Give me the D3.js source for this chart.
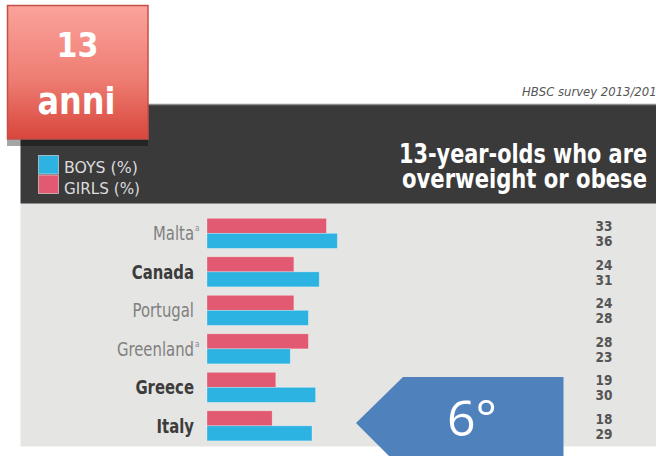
<!DOCTYPE html>
<html>
<head>
<meta charset="utf-8">
<script src="https://cdn.jsdelivr.net/npm/d3@7"></script>
<style>
  html, body { margin: 0; padding: 0; background: #ffffff; }
  svg { display: block; }
  .cond { font-family: "DejaVu Sans Condensed", "DejaVu Sans", sans-serif; font-stretch: condensed; }
</style>
</head>
<body>
<script>
// Share of 13-year-olds who are overweight or obese (HBSC 2013/2014)
const countries = ["Malta", "Canada", "Portugal", "Greenland", "Greece", "Italy"];
const girls = [33, 24, 24, 28, 19, 18];
const boys = [36, 31, 28, 23, 30, 29];
const boldCountries = ["Canada", "Greece", "Italy"];
const footnotes = ["a", "", "", "a", "", ""];
const seriesKeys = ["girls", "boys"];
const legendLabels = ["BOYS (%)", "GIRLS (%)"];
const titleLines = ["13-year-olds who are", "overweight or obese"];
const sourceLabel = "HBSC survey 2013/2014";
const badgeLines = ["13", "anni"];
const rankLabel = "6°";

const W = 656, H = 456;
const colors = { boys: "#2db3e1", girls: "#e15a71" };

const rows = countries.map((c, i) => ({ country: c, girls: girls[i], boys: boys[i], note: footnotes[i] }));

const svg = d3.select("body").append("svg").attr("width", W).attr("height", H);

// squeeze a text horizontally (about its anchor point) to a given width
function fitWidth(text, px, py, width) {
  const natural = text.node().getComputedTextLength();
  text.attr("x", 0).attr("y", 0)
    .attr("transform", `translate(${px},${py}) scale(${width / natural},1)`);
}

const defs = svg.append("defs");
const grad = defs.append("linearGradient").attr("id", "badgeFill")
  .attr("x1", 0).attr("y1", 0).attr("x2", 0).attr("y2", 1);
grad.append("stop").attr("offset", "0%").attr("stop-color", "#fba39b");
grad.append("stop").attr("offset", "55%").attr("stop-color", "#ee7d73");
grad.append("stop").attr("offset", "100%").attr("stop-color", "#d8463b");

// light panel behind the bars
svg.append("rect").attr("x", 20.5).attr("y", 203).attr("width", W - 20.5).attr("height", 243.5)
  .attr("fill", "#e5e5e3");

// dark header band
svg.append("rect").attr("x", 20.5).attr("y", 104).attr("width", W - 20.5).attr("height", 99.5)
  .attr("fill", "#3a3a3a");
svg.append("line").attr("x1", 20.5).attr("x2", W).attr("y1", 104.5).attr("y2", 104.5)
  .attr("stroke", "#8e8e8e").attr("stroke-width", 1.5);

// source line (runs past the right edge of the page)
const src = svg.append("text").attr("class", "cond")
  .attr("font-size", 13).attr("font-style", "italic").attr("fill", "#555")
  .text(sourceLabel);
fitWidth(src, 522, 96, 142);

// title
titleLines.forEach((line, i) => {
  const t = svg.append("text").attr("class", "cond")
    .attr("text-anchor", "end")
    .attr("font-size", 26.5).attr("font-weight", "bold").attr("fill", "#ffffff")
    .text(line);
  fitWidth(t, 647, 163 + i * 25, i === 0 ? 248 : 245);
});

// legend
const legend = svg.append("g");
["boys", "girls"].forEach((k, i) => {
  legend.append("rect").attr("x", 38.5).attr("y", 155.5 + i * 19.5)
    .attr("width", 20).attr("height", 18.5)
    .attr("fill", colors[k]).attr("stroke", "#f0f0f0").attr("stroke-width", 0.8).attr("stroke-opacity", 0.7);
  const t = legend.append("text").attr("class", "cond")
    .attr("font-size", 16.5).attr("fill", "#dcdcdc")
    .text(legendLabels[i]);
  fitWidth(t, 64, 173 + i * 20.5, i === 0 ? 74 : 76);
});

// scales
const x = d3.scaleLinear().domain([0, 40]).range([207, 207 + 40 * 3.62]);
const y = d3.scaleBand().domain(countries).range([214.1, 445.1]).paddingInner(0.22).paddingOuter(0.11);
const ySub = d3.scaleBand().domain(seriesKeys).range([0, y.bandwidth()]);

const rowG = svg.append("g").selectAll("g").data(rows).join("g")
  .attr("transform", d => `translate(0,${y(d.country)})`);

rowG.selectAll("rect").data(d => seriesKeys.map(k => ({ key: k, value: d[k] }))).join("rect")
  .attr("x", x(0))
  .attr("y", d => ySub(d.key))
  .attr("width", d => x(d.value) - x(0))
  .attr("height", ySub.bandwidth())
  .attr("fill", d => colors[d.key])
  .attr("stroke", "#ffffff").attr("stroke-opacity", 0.35).attr("stroke-width", 0.8);

// country labels, narrowed horizontally
const labelG = rowG.append("g")
  .attr("transform", `translate(194,${y.bandwidth() / 2 + 6.8}) scale(0.87,1)`);
labelG.append("text").attr("class", "cond")
  .attr("text-anchor", "end")
  .attr("font-size", 19)
  .attr("font-weight", d => boldCountries.includes(d.country) ? "bold" : "normal")
  .attr("fill", d => boldCountries.includes(d.country) ? "#3c3c3c" : "#808080")
  .text(d => d.country);

rowG.filter(d => d.note).append("text").attr("class", "cond")
  .attr("x", 195).attr("y", y.bandwidth() / 2 - 2)
  .attr("font-size", 8).attr("fill", "#8a8a8a")
  .text(d => d.note);

// value column
rowG.selectAll("text.val").data(d => seriesKeys.map(k => ({ key: k, value: d[k] }))).join("text")
  .attr("class", "val cond")
  .attr("x", 604)
  .attr("y", d => ySub(d.key) + ySub.bandwidth() - 2.3)
  .attr("text-anchor", "middle")
  .attr("font-size", 13.5).attr("font-weight", "bold").attr("fill", "#555555")
  .text(d => d.value);

// age badge
const badge = svg.append("g");
badge.append("rect").attr("x", 7).attr("y", 12).attr("width", 141).attr("height", 134)
  .attr("fill", "#000000").attr("opacity", 0.35);
badge.append("rect").attr("x", 7.5).attr("y", 5.5).attr("width", 140.5).attr("height", 133.5)
  .attr("fill", "url(#badgeFill)").attr("stroke", "#c4504a").attr("stroke-width", 1.5);
badgeLines.forEach((line, i) => {
  const t = badge.append("text")
    .attr("text-anchor", "middle")
    .attr("font-family", "'DejaVu Sans', sans-serif")
    .attr("font-weight", "bold")
    .attr("font-size", i === 0 ? 33 : 38)
    .attr("fill", "#ffffff")
    .text(line);
  fitWidth(t, i === 0 ? 77.5 : 76.5, i === 0 ? 56.7 : 114, i === 0 ? 42 : 78);
});

// rank marker
const arrow = svg.append("g");
arrow.append("path")
  .attr("d", d3.line()([[356, 423], [403, 377], [563.5, 377], [563.5, 470], [403, 470]]) + "Z")
  .attr("fill", "#4f81bd");
arrow.append("text")
  .attr("x", 447).attr("y", 436)
  .attr("font-family", "'Open Sans', sans-serif")
  .attr("font-size", 50).attr("fill", "#ffffff")
  .text(rankLabel);
</script>
</body>
</html>
